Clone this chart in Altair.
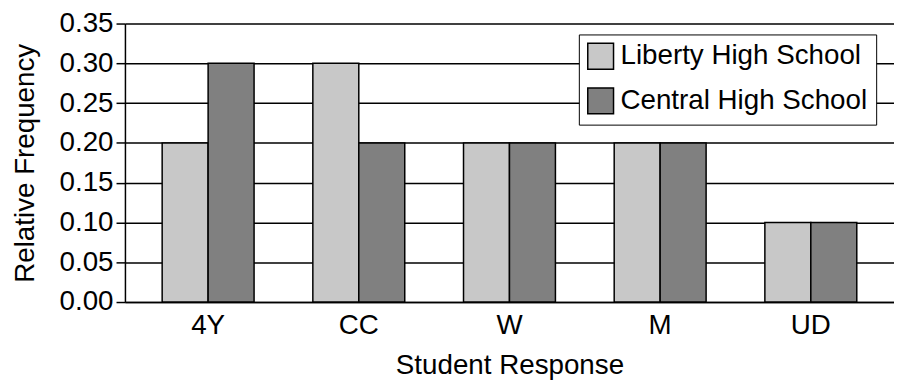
import altair as alt
import pandas as pd

categories = ["4Y", "CC", "W", "M", "UD"]
schools = ["Liberty High School", "Central High School"]
liberty = [0.20, 0.30, 0.20, 0.20, 0.10]
central = [0.30, 0.20, 0.20, 0.20, 0.10]
y_ticks = [0.00, 0.05, 0.10, 0.15, 0.20, 0.25, 0.30, 0.35]

rows = []
for c, a, b in zip(categories, liberty, central):
    rows.append({"response": c, "school": schools[0], "freq": a})
    rows.append({"response": c, "school": schools[1], "freq": b})
df = pd.DataFrame(rows)

FONT = "Liberation Sans"
FS = 28

chart = alt.Chart(df).mark_bar(stroke="black", strokeWidth=1.5).encode(
    x=alt.X(
        "response:N",
        sort=categories,
        scale=alt.Scale(paddingInner=0.39, paddingOuter=0.247),
        axis=alt.Axis(
            title="Student Response",
            labelAngle=0,
            ticks=False,
            domainColor="black",
            domainWidth=1.5,
            labelPadding=10,
            labelFontSize=FS,
            labelColor="black",
            labelFont=FONT,
            titleFont=FONT,
            titleFontSize=FS,
            titleFontWeight="normal",
            titleColor="black",
            titlePadding=12,
        ),
    ),
    xOffset=alt.XOffset("school:N", sort=schools),
    y=alt.Y(
        "freq:Q",
        scale=alt.Scale(domain=[0, 0.35], nice=False),
        axis=alt.Axis(
            title="Relative Frequency",
            values=y_ticks,
            format=".2f",
            grid=True,
            gridColor="black",
            gridWidth=1.5,
            gridOpacity=1,
            domainColor="black",
            domainWidth=1.5,
            tickColor="black",
            tickWidth=1.5,
            tickSize=9,
            labelPadding=3,
            labelFontSize=FS,
            labelColor="black",
            labelFont=FONT,
            titleFont=FONT,
            titleFontSize=FS,
            titleFontWeight="normal",
            titleColor="black",
            titlePadding=20,
        ),
    ),
    color=alt.Color(
        "school:N",
        sort=schools,
        scale=alt.Scale(domain=schools, range=["#c8c8c8", "#808080"]),
        legend=alt.Legend(
            title=None,
            orient="none",
            legendX=458,
            legendY=11,
            fillColor="white",
            strokeColor="black",
            padding=8,
            symbolType="square",
            symbolSize=676,
            symbolStrokeColor="black",
            symbolStrokeWidth=1.5,
            symbolOpacity=1,
            labelFontSize=FS,
            labelFont=FONT,
            labelColor="black",
            labelOffset=6,
            labelLimit=400,
            rowPadding=13,
        ),
    ),
).properties(
    width=776,
    height=281,
    autosize=alt.AutoSizeParams(type="none"),
    padding={"left": 118, "top": 14, "right": 0, "bottom": 78},
).configure_view(stroke=None)

chart.save("out.html", embed_options={"renderer": "svg", "actions": False})
